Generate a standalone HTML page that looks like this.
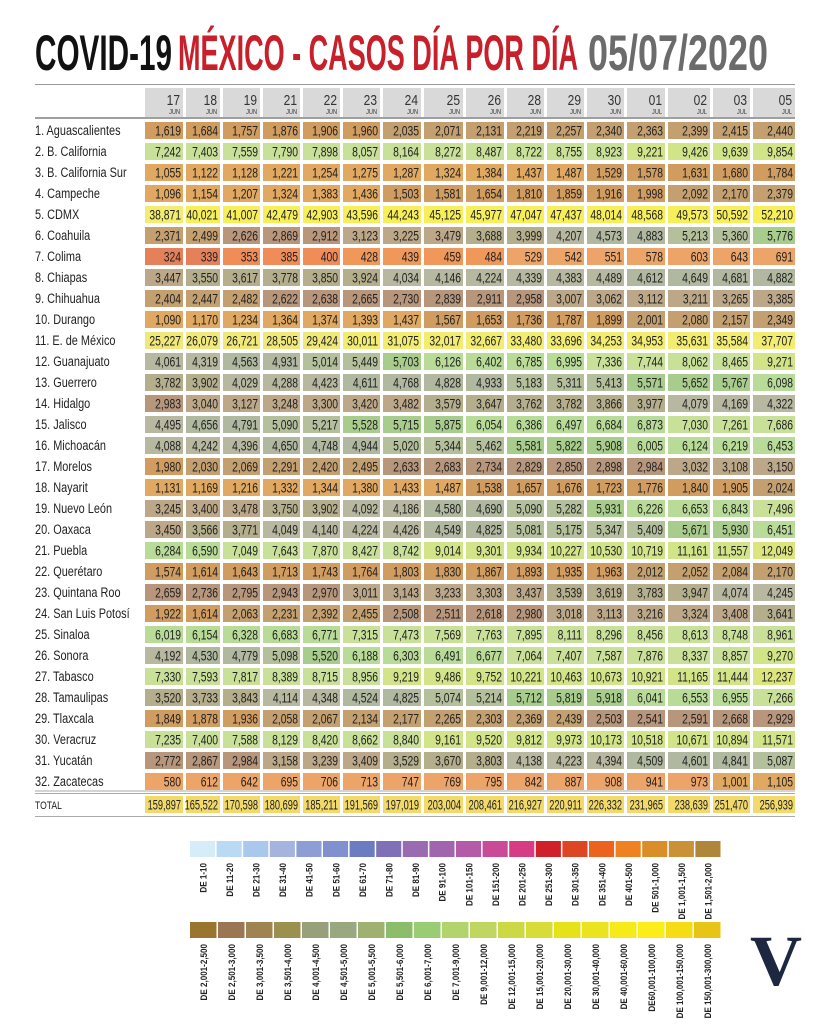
<!DOCTYPE html>
<html><head><meta charset="utf-8"><style>
html,body{margin:0;padding:0;background:#fff;}
svg{display:block;font-family:"Liberation Sans",sans-serif;}
</style></head><body>
<svg id="s" width="818" height="1024" xmlns="http://www.w3.org/2000/svg">
<rect width="818" height="1024" fill="#fff"/>
<text x="35" y="70" font-size="50" font-weight="bold" fill="#111" textLength="137" lengthAdjust="spacingAndGlyphs">COVID-19</text>
<text x="178" y="70" font-size="50" font-weight="bold" fill="#c8202a" textLength="400" lengthAdjust="spacingAndGlyphs">MÉXICO - CASOS DÍA POR DÍA</text>
<text x="588" y="70" font-size="50" font-weight="bold" fill="#6b6b6b" textLength="180" lengthAdjust="spacingAndGlyphs">05/07/2020</text>
<line x1="35" y1="84.5" x2="795" y2="84.5" stroke="#999" stroke-width="1"/>
<text x="750" y="985" font-family="Liberation Serif,serif" font-size="72" font-weight="bold" fill="#1e2740">V</text>
<g id="g"></g>
</svg>
<script>
var starts=[145,186,223,263,303,343,383,424,466,507,547,587,627,668,713,753,798];
var days=["17","18","19","21","22","23","24","25","26","28","29","30","01","02","03","05"];
var mons=["JUN","JUN","JUN","JUN","JUN","JUN","JUN","JUN","JUN","JUN","JUN","JUN","JUL","JUL","JUL","JUL"];
var rows=[
["1. Aguascalientes","1,619 1,684 1,757 1,876 1,906 1,960 2,035 2,071 2,131 2,219 2,257 2,340 2,363 2,399 2,415 2,440"],
["2. B. California","7,242 7,403 7,559 7,790 7,898 8,057 8,164 8,272 8,487 8,722 8,755 8,923 9,221 9,426 9,639 9,854"],
["3. B. California Sur","1,055 1,122 1,128 1,221 1,254 1,275 1,287 1,324 1,384 1,437 1,487 1,529 1,578 1,631 1,680 1,784"],
["4. Campeche","1,096 1,154 1,207 1,324 1,383 1,436 1,503 1,581 1,654 1,810 1,859 1,916 1,998 2,092 2,170 2,379"],
["5. CDMX","38,871 40,021 41,007 42,479 42,903 43,596 44,243 45,125 45,977 47,047 47,437 48,014 48,568 49,573 50,592 52,210"],
["6. Coahuila","2,371 2,499 2,626 2,869 2,912 3,123 3,225 3,479 3,688 3,999 4,207 4,573 4,883 5,213 5,360 5,776"],
["7. Colima","324 339 353 385 400 428 439 459 484 529 542 551 578 603 643 691"],
["8. Chiapas","3,447 3,550 3,617 3,778 3,850 3,924 4,034 4,146 4,224 4,339 4,383 4,489 4,612 4,649 4,681 4,882"],
["9. Chihuahua","2,404 2,447 2,482 2,622 2,638 2,665 2,730 2,839 2,911 2,958 3,007 3,062 3,112 3,211 3,265 3,385"],
["10. Durango","1,090 1,170 1,234 1,364 1,374 1,393 1,437 1,567 1,653 1,736 1,787 1,899 2,001 2,080 2,157 2,349"],
["11. E. de México","25,227 26,079 26,721 28,505 29,424 30,011 31,075 32,017 32,667 33,480 33,696 34,253 34,953 35,631 35,584 37,707"],
["12. Guanajuato","4,061 4,319 4,563 4,931 5,014 5,449 5,703 6,126 6,402 6,785 6,995 7,336 7,744 8,062 8,465 9,271"],
["13. Guerrero","3,782 3,902 4,029 4,288 4,423 4,611 4,768 4,828 4,933 5,183 5,311 5,413 5,571 5,652 5,767 6,098"],
["14. Hidalgo","2,983 3,040 3,127 3,248 3,300 3,420 3,482 3,579 3,647 3,762 3,782 3,866 3,977 4,079 4,169 4,322"],
["15. Jalisco","4,495 4,656 4,791 5,090 5,217 5,528 5,715 5,875 6,054 6,386 6,497 6,684 6,873 7,030 7,261 7,686"],
["16. Michoacán","4,088 4,242 4,396 4,650 4,748 4,944 5,020 5,344 5,462 5,581 5,822 5,908 6,005 6,124 6,219 6,453"],
["17. Morelos","1,980 2,030 2,069 2,291 2,420 2,495 2,633 2,683 2,734 2,829 2,850 2,898 2,984 3,032 3,108 3,150"],
["18. Nayarit","1,131 1,169 1,216 1,332 1,344 1,380 1,433 1,487 1,538 1,657 1,676 1,723 1,776 1,840 1,905 2,024"],
["19. Nuevo León","3,245 3,400 3,478 3,750 3,902 4,092 4,186 4,580 4,690 5,090 5,282 5,931 6,226 6,653 6,843 7,496"],
["20. Oaxaca","3,450 3,566 3,771 4,049 4,140 4,224 4,426 4,549 4,825 5,081 5,175 5,347 5,409 5,671 5,930 6,451"],
["21. Puebla","6,284 6,590 7,049 7,643 7,870 8,427 8,742 9,014 9,301 9,934 10,227 10,530 10,719 11,161 11,557 12,049"],
["22. Querétaro","1,574 1,614 1,643 1,713 1,743 1,764 1,803 1,830 1,867 1,893 1,935 1,963 2,012 2,052 2,084 2,170"],
["23. Quintana Roo","2,659 2,736 2,795 2,943 2,970 3,011 3,143 3,233 3,303 3,437 3,539 3,619 3,783 3,947 4,074 4,245"],
["24. San Luis Potosí","1,922 1,614 2,063 2,231 2,392 2,455 2,508 2,511 2,618 2,980 3,018 3,113 3,216 3,324 3,408 3,641"],
["25. Sinaloa","6,019 6,154 6,328 6,683 6,771 7,315 7,473 7,569 7,763 7,895 8,111 8,296 8,456 8,613 8,748 8,961"],
["26. Sonora","4,192 4,530 4,779 5,098 5,520 6,188 6,303 6,491 6,677 7,064 7,407 7,587 7,876 8,337 8,857 9,270"],
["27. Tabasco","7,330 7,593 7,817 8,389 8,715 8,956 9,219 9,486 9,752 10,221 10,463 10,673 10,921 11,165 11,444 12,237"],
["28. Tamaulipas","3,520 3,733 3,843 4,114 4,348 4,524 4,825 5,074 5,214 5,712 5,819 5,918 6,041 6,553 6,955 7,266"],
["29. Tlaxcala","1,849 1,878 1,936 2,058 2,067 2,134 2,177 2,265 2,303 2,369 2,439 2,503 2,541 2,591 2,668 2,929"],
["30. Veracruz","7,235 7,400 7,588 8,129 8,420 8,662 8,840 9,161 9,520 9,812 9,973 10,173 10,518 10,671 10,894 11,571"],
["31. Yucatán","2,772 2,867 2,984 3,158 3,239 3,409 3,529 3,670 3,803 4,138 4,223 4,394 4,509 4,601 4,841 5,087"],
["32. Zacatecas","580 612 642 695 706 713 747 769 795 842 887 908 941 973 1,001 1,105"]
];
var total="159,897 165,522 170,598 180,699 185,211 191,569 197,019 203,004 208,461 216,927 220,911 226,332 231,965 238,639 251,470 256,939";
var tb=[[350,"#e4805a"],[400,"#f08c58"],[500,"#f0985a"],[1000,"#eca468"],[1500,"#e0a860"],[2000,"#d09c60"],[2500,"#c4a070"],[3000,"#b8967c"],[3500,"#bca888"],[4000,"#b4ae8c"],[4500,"#b8b8a0"],[5000,"#b0b8a0"],[5500,"#b4c09c"],[6000,"#a8cc8c"],[7000,"#b8dc98"],[9000,"#c8e098"],[12000,"#d2e488"],[15000,"#dce47c"],[20000,"#e4e670"],[30000,"#f0e878"],[40000,"#f2ec70"],[60000,"#f7ef5a"],[100000,"#f8ee60"],[150000,"#f4e068"],[300000,"#f2da6a"]];
function col(v){for(var i=0;i<tb.length;i++)if(v<=tb[i][0])return tb[i][1];return "#f2da6a";}
var h="";
function t(x,y,s,fs,sx,extra){return '<text transform="translate('+x+','+y+') scale('+sx+',1)" font-size="'+fs+'" '+(extra||'')+'>'+s+'</text>';}
for(var c=0;c<16;c++){var x=starts[c],w=starts[c+1]-x-3;
 h+='<rect x="'+x+'" y="88" width="'+w+'" height="29" fill="#d9d9d9"/>';
 h+=t(x+w-3,105,days[c],15,0.8,'text-anchor="end" fill="#333"');
 h+=t(x+w-3,114,mons[c],7,0.8,'text-anchor="end" fill="#333"');}
h+='<line x1="35" y1="118" x2="795" y2="118" stroke="#666" stroke-width="1.2"/>';
function row(y,label,vals,lfs,fs,sx){
 h+=t(35,y+13,label,lfs||14,0.78,'fill="#222"');
 var a=vals.split(" ");
 for(var c=0;c<16;c++){var x=starts[c],w=starts[c+1]-x-3;var v=parseInt(a[c].replace(/,/g,''));
  h+='<rect x="'+x+'" y="'+y+'" width="'+w+'" height="17" fill="'+col(v)+'"/>';
  h+=t(x+w-2,y+13.5,a[c],fs||14,sx||0.74,'text-anchor="end" fill="#222"');}}
for(var r=0;r<32;r++)row(122+r*21,rows[r][0],rows[r][1]);
h+='<line x1="35" y1="791" x2="795" y2="791" stroke="#aaa" stroke-width="1"/><line x1="35" y1="793.5" x2="795" y2="793.5" stroke="#aaa" stroke-width="1"/>';
row(796,"TOTAL",total,11,14,0.66);
h+='<line x1="35" y1="816.5" x2="795" y2="816.5" stroke="#aaa" stroke-width="1"/>';
var L1=[["DE 1-10","#d6ecf8"],["DE 11-20","#b9daf2"],["DE 21-30","#a9c8ec"],["DE 31-40","#a4b4de"],["DE 41-50","#8c9ed4"],["DE 51-60","#8290cf"],["DE 61-70","#6c7cc1"],["DE 71-80","#7f70b8"],["DE 81-90","#9a6bb0"],["DE 91-100","#a065ae"],["DE 101-150","#b45aa8"],["DE 151-200","#c94b98"],["DE 201-250","#d63c84"],["DE 251-300","#d0202a"],["DE 301-350","#dd4524"],["DE 351-400","#ec6320"],["DE 401-500","#ef8220"],["DE 501-1,000","#d98e2a"],["DE 1,001-1,500","#c99236"],["DE 1,501-2,000","#b0863a"]];
var L2=[["DE 2,001-2,500","#9a7530"],["DE 2,501-3,000","#9c7552"],["DE 3,001-3,500","#9f8350"],["DE 3,501-4,000","#9c9050"],["DE 4,001-4,500","#98a07a"],["DE 4,501-5,000","#9aa880"],["DE 5,001-5,500","#9fb070"],["DE 5,501-6,000","#8cbd6a"],["DE 6,001-7,000","#9acc74"],["DE 7,001-9,000","#b2d46c"],["DE 9,001-12,000","#c0d660"],["DE 12,001-15,000","#ccd844"],["DE 15,001-20,000","#d8dc38"],["DE 20,001-30,000","#e6e21a"],["DE 30,001-40,000","#eae41e"],["DE 40,001-60,000","#f7ea1a"],["DE60,001-100,000","#fbec1a"],["DE 100,001-150,000","#f6dc14"],["DE 150,001-300,000","#e8c414"]];
function leg(L,y0,pitch){for(var i=0;i<L.length;i++){var x=190+i*pitch;
 h+='<rect x="'+x+'" y="'+y0+'" width="'+(pitch-1.5)+'" height="16" fill="'+L[i][1]+'"/>';
 var cx=x+pitch/2+3;var ty=y0+22;
 h+='<text transform="translate('+cx+','+ty+') rotate(-90) scale(0.85,1)" text-anchor="end" font-size="9.5" font-weight="bold" fill="#222">'+L[i][0]+'</text>';}}
leg(L1,841,26.6);leg(L2,922,28);
document.getElementById("g").innerHTML=h;
</script>
</body></html>
